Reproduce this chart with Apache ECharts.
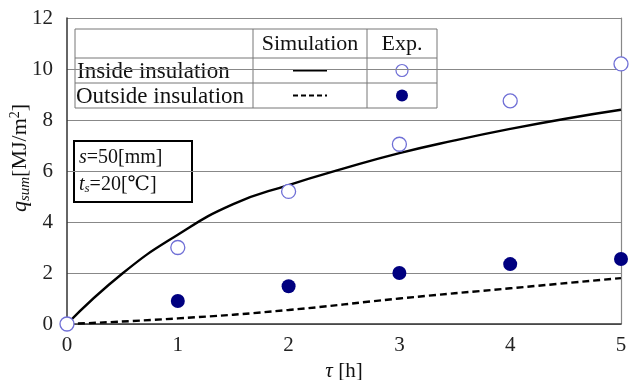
<!DOCTYPE html>
<html>
<head>
<meta charset="utf-8">
<script src="https://cdn.jsdelivr.net/npm/echarts@6/dist/echarts.min.js"></script>
<style>
  html, body { margin: 0; padding: 0; background: #fff; }
  #chart { width: 634px; height: 380px; }
</style>
</head>
<body>
<div id="chart"></div>
<script>
// time [h] and cumulative heat q_sum [MJ/m2]
var simTime = [0, 0.5, 1.0, 1.5, 2, 2.5, 3, 3.5, 4, 4.5, 5];
var simInside = [0, 1.98, 3.5, 4.7, 5.45, 6.1, 6.7, 7.2, 7.65, 8.05, 8.4];
var simOutsideTime = [0, 1, 2, 3, 4, 5];
var simOutside = [0, 0.22, 0.55, 1.0, 1.4, 1.8];
var expTime = [0, 1, 2, 3, 4, 5];
var expInside = [0, 3.0, 5.2, 7.05, 8.75, 10.2];
var expOutsideTime = [1, 2, 3, 4, 5];
var expOutside = [0.9, 1.48, 2.0, 2.35, 2.55];
var yTicks = [0, 2, 4, 6, 8, 10, 12];
var xTicks = [0, 1, 2, 3, 4, 5];

var serif = '"Liberation Serif", "DejaVu Serif", serif';
var openColor = '#6f6fd6';
var fillColor = '#000080';

function pairs(xs, ys) {
    return xs.map(function (x, i) { return [x, ys[i]]; });
}

var chart = echarts.init(document.getElementById('chart'));

// legend table (drawn as graphic, the chart has a boxed table not a normal legend)
var tx = 75, ty = 29, cw = [178, 114, 70], rh = [29, 25, 25];
var tw = cw[0] + cw[1] + cw[2], th = rh[0] + rh[1] + rh[2];
var gray = '#777';
var table = [
    { type: 'rect', shape: { x: tx, y: ty, width: tw, height: th }, style: { fill: '#fff', stroke: gray, lineWidth: 1 } },
    { type: 'line', shape: { x1: tx, y1: ty + rh[0], x2: tx + tw, y2: ty + rh[0] }, style: { stroke: gray } },
    { type: 'line', shape: { x1: tx, y1: ty + rh[0] + rh[1], x2: tx + tw, y2: ty + rh[0] + rh[1] }, style: { stroke: gray } },
    { type: 'line', shape: { x1: tx + cw[0], y1: ty, x2: tx + cw[0], y2: ty + th }, style: { stroke: gray } },
    { type: 'line', shape: { x1: tx + cw[0] + cw[1], y1: ty, x2: tx + cw[0] + cw[1], y2: ty + th }, style: { stroke: gray } },
    { type: 'text', x: tx + cw[0] + cw[1] / 2, y: ty + rh[0] / 2 + 1, style: { text: 'Simulation', font: '22px ' + serif, fill: '#111', align: 'center', verticalAlign: 'middle' } },
    { type: 'text', x: tx + cw[0] + cw[1] + cw[2] / 2, y: ty + rh[0] / 2 + 1, style: { text: 'Exp.', font: '22px ' + serif, fill: '#111', align: 'center', verticalAlign: 'middle' } },
    { type: 'text', x: tx + 2, y: ty + rh[0] + rh[1] / 2 + 1, style: { text: 'Inside insulation', font: '23px ' + serif, fill: '#111', verticalAlign: 'middle' } },
    { type: 'text', x: tx + 1, y: ty + rh[0] + rh[1] + rh[2] / 2 + 1, style: { text: 'Outside insulation', font: '23px ' + serif, fill: '#111', verticalAlign: 'middle' } },
    { type: 'line', shape: { x1: tx + cw[0] + 40, y1: ty + rh[0] + rh[1] / 2, x2: tx + cw[0] + 74, y2: ty + rh[0] + rh[1] / 2 }, style: { stroke: '#000', lineWidth: 2 } },
    { type: 'line', shape: { x1: tx + cw[0] + 40, y1: ty + rh[0] + rh[1] + rh[2] / 2, x2: tx + cw[0] + 74, y2: ty + rh[0] + rh[1] + rh[2] / 2 }, style: { stroke: '#000', lineWidth: 2, lineDash: [5, 3] } },
    { type: 'circle', shape: { cx: tx + cw[0] + cw[1] + cw[2] / 2, cy: ty + rh[0] + rh[1] / 2, r: 6 }, style: { fill: '#fff', stroke: openColor, lineWidth: 1.2 } },
    { type: 'circle', shape: { cx: tx + cw[0] + cw[1] + cw[2] / 2, cy: ty + rh[0] + rh[1] + rh[2] / 2, r: 6 }, style: { fill: fillColor } }
];

var note = [
    { type: 'rect', shape: { x: 74, y: 141, width: 118, height: 61 }, style: { fill: '#fff', stroke: '#000', lineWidth: 2 } },
    {
        type: 'text', x: 79, y: 144,
        style: {
            text: '{i|s}=50[mm]\n{i|t}{sub|s}=20[℃]',
            font: '20px ' + serif, fill: '#111', lineHeight: 27,
            rich: {
                i: { fontStyle: 'italic', fontSize: 20, fontFamily: serif },
                sub: { fontStyle: 'italic', fontSize: 13, fontFamily: serif, padding: [9, 0, 0, 0] }
            }
        }
    }
];

// y axis title, placed by hand
var yTitle = [{
    type: 'text', x: 20, y: 158, rotation: Math.PI / 2,
    style: {
        text: '{i|q}{sub|sum}[MJ/m{sup|2}]',
        font: '22px ' + serif, fill: '#111', align: 'center', verticalAlign: 'middle',
        rich: {
            i: { fontStyle: 'italic', fontSize: 22, fontFamily: serif },
            sub: { fontStyle: 'italic', fontSize: 15, fontFamily: serif, padding: [10, 0, 0, 0] },
            sup: { fontSize: 14, fontFamily: serif, padding: [0, 0, 10, 0] }
        }
    }
}];

var option = {
    backgroundColor: '#fff',
    animation: false,
    grid: { left: 67, right: 13, top: 18, bottom: 56, outerBoundsMode: 'none' },
    xAxis: {
        type: 'value', min: 0, max: 5, interval: 1,
        name: '{i|τ} [h]', nameLocation: 'middle', nameGap: 34,
        nameTextStyle: {
            fontFamily: serif, fontSize: 21, color: '#111',
            rich: { i: { fontStyle: 'italic', fontSize: 21, fontFamily: serif } }
        },
        axisLine: { lineStyle: { color: '#333', width: 1.5 } },
        axisTick: { show: false },
        splitLine: { show: false },
        axisLabel: {
            fontFamily: serif, fontSize: 21, color: '#222', margin: 11,
            formatter: function (v) { return xTicks.indexOf(v) >= 0 ? String(v) : ''; }
        }
    },
    yAxis: [{
        type: 'value', min: 0, max: 12, interval: 2,
        axisLine: { show: true, lineStyle: { color: '#333', width: 1.5 } },
        axisTick: { show: false },
        splitLine: { show: true, lineStyle: { color: '#888', width: 1.2 } },
        axisLabel: {
            fontFamily: serif, fontSize: 21, color: '#222', margin: 14,
            formatter: function (v) { return yTicks.indexOf(v) >= 0 ? String(v) : ''; }
        }
    }, {
        type: 'value', min: 0, max: 12, position: 'right',
        axisLine: { show: true, lineStyle: { color: '#888', width: 1.2 } },
        axisTick: { show: false }, axisLabel: { show: false }, splitLine: { show: false }
    }],
    graphic: table.concat(note, yTitle),
    series: [{
        name: 'Inside insulation sim',
        type: 'line', smooth: true, showSymbol: false,
        data: pairs(simTime, simInside),
        lineStyle: { color: '#000', width: 2.4 }
    }, {
        name: 'Outside insulation sim',
        type: 'line', smooth: true, showSymbol: false,
        data: pairs(simOutsideTime, simOutside),
        lineStyle: { color: '#000', width: 2.4, type: [7, 4] }
    }, {
        name: 'Inside insulation exp',
        type: 'scatter', symbol: 'circle', symbolSize: 14, clip: false, z: 5,
        data: pairs(expTime, expInside),
        itemStyle: { color: '#fff', borderColor: openColor, borderWidth: 1.3, opacity: 1 }
    }, {
        name: 'Outside insulation exp',
        type: 'scatter', symbol: 'circle', symbolSize: 14, clip: false, z: 5,
        data: pairs(expOutsideTime, expOutside),
        itemStyle: { color: fillColor, opacity: 1 }
    }]
};

chart.setOption(option);
window.onresize = chart.resize;
</script>
</body>
</html>
